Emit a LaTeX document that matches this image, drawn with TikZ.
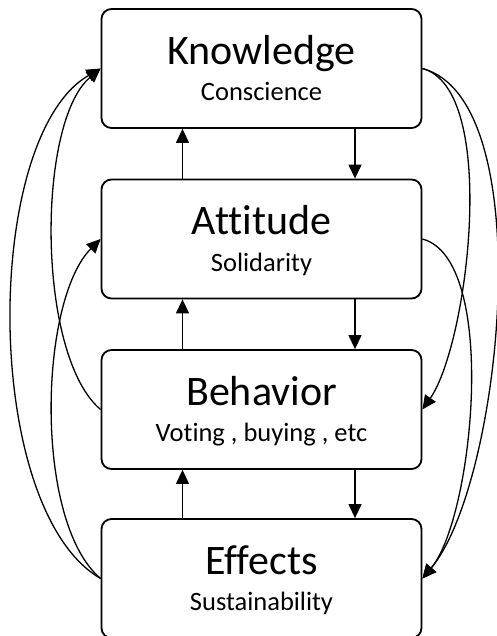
\documentclass[tikz,border=0pt]{standalone}
\usepackage{fontspec}
\setmainfont{Carlito}[Ligatures=CommonOff]
\usetikzlibrary{arrows.meta}

\tikzset{
  stage/.style={draw, rounded corners=10pt, line width=1.8pt, minimum width=320pt, minimum height=119pt,
    inner sep=0pt, align=center, font=\fontsize{26.5}{36.5}\selectfont, text height=72pt, text depth=7pt},
  flow/.style={line width=1.3pt, -{Triangle[length=14pt,width=13pt]}}
}
\newcommand{\stagename}[1]{{\fontsize{42}{36.5}\selectfont #1}}

\begin{document}
\begin{tikzpicture}[x=1pt,y=1pt]
    \useasboundingbox (0,0) rectangle (497,636);
    \node (K) at (261.5,567.5) [stage] {\stagename{Knowledge}\\Conscience};
    \node (A) at (261.5,397) [stage] {\stagename{Attitude}\\Solidarity};
    \node (B) at (261.5,226.5) [stage] {\stagename{Behavior}\\Voting , buying , etc};
    \node (E) at (261.5,57.5) [stage] {\stagename{Effects}\\Sustainability};
    % straight arrows between neighbours
    \draw[flow] ([xshift=-79pt]A.north) -- ([xshift=-79pt]K.south);
    \draw[flow] ([xshift=-79pt]B.north) -- ([xshift=-79pt]A.south);
    \draw[flow] ([xshift=-79pt]E.north) -- ([xshift=-79pt]B.south);
    \draw[flow] ([xshift=93.5pt]K.south) -- ([xshift=93.5pt]A.north);
    \draw[flow] ([xshift=93.5pt]A.south) -- ([xshift=93.5pt]B.north);
    \draw[flow] ([xshift=93.5pt]B.south) -- ([xshift=93.5pt]E.north);
    % feedback on the left
    \draw[flow] (E.west) to [out=150,in=210,looseness=.69] (K.west);
    \draw[flow] (B.west) to [out=140,in=220,looseness=.63] (K.west);
    \draw[flow] (E.west) to [out=140,in=225,looseness=.66] (A.west);
    % feed forward on the right
    \draw[flow] (K.east) to [out=-15,in=50,looseness=.62] (E.east);
    \draw[flow] (K.east) to [out=-15,in=55,looseness=.60] (B.east);
    \draw[flow] (A.east) to [out=-15,in=50,looseness=.60] (E.east);
\end{tikzpicture}
\end{document}
